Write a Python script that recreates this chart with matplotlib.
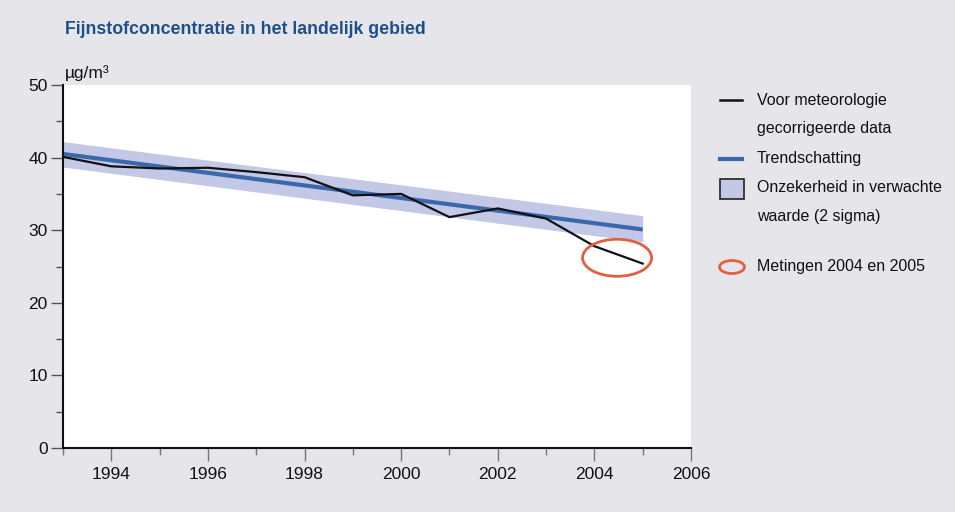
import matplotlib
matplotlib.use("Agg")
import matplotlib.pyplot as plt
import numpy as np
from matplotlib.patches import Ellipse, Rectangle
from matplotlib.lines import Line2D
from matplotlib.ticker import MultipleLocator

FONT = ['Liberation Sans', 'DejaVu Sans']
plt.rcParams['font.family'] = FONT

years = [1993, 1994, 1995, 1996, 1997, 1998, 1999, 2000, 2001, 2002, 2003, 2004, 2005]
measured = [40.1, 38.8, 38.5, 38.6, 38.0, 37.3, 34.8, 35.0, 31.8, 33.0, 31.6, 27.8, 25.4]
trend_years = [1993, 2005]
trend_values = [40.5, 30.1]
band_upper = [42.2, 32.0]
band_lower = [38.7, 28.4]
highlight_center = (2004.47, 26.2)
highlight_size = (1.43, 5.1)

title = "Fijnstofconcentratie in het landelijk gebied"
unit = "µg/m³"
legend_labels = ["Voor meteorologie\ngecorrigeerde data", "Trendschatting",
                 "Onzekerheid in verwachte\nwaarde (2 sigma)", "Metingen 2004 en 2005"]

bg = "#E6E6EA"
c_black = "#111111"
c_blue = "#3A68AC"
c_band = "#C3C8E6"
c_circle = "#E2603F"
c_title = "#1F4F8A"

fig = plt.figure(figsize=(9.55, 5.12), dpi=100)
fig.patch.set_facecolor(bg)

ax = fig.add_axes([63/955, (512-448)/512, (691-63)/955, (448-85)/512])
ax.set_facecolor("white")
ax.fill_between(trend_years, band_lower, band_upper, color=c_band, lw=0, zorder=1)
ax.plot(trend_years, trend_values, color=c_blue, lw=3, zorder=2, solid_capstyle='butt')
ax.plot(years, measured, color=c_black, lw=1.6, zorder=3)
ax.add_patch(Ellipse(highlight_center, highlight_size[0], highlight_size[1],
                     fill=False, edgecolor=c_circle, lw=2, zorder=4))

ax.set_xlim(1993, 2006)
ax.set_ylim(0, 50)
ax.xaxis.set_minor_locator(MultipleLocator(1))
ax.set_xticks(range(1994, 2007, 2))
ax.yaxis.set_major_locator(MultipleLocator(10))
ax.yaxis.set_minor_locator(MultipleLocator(5))
for s in ['top', 'right']:
    ax.spines[s].set_visible(False)
for s in ['left', 'bottom']:
    ax.spines[s].set_linewidth(1.5)
    ax.spines[s].set_color("#111111")
ax.tick_params(axis='x', which='major', length=9, width=1, color="#777777",
               labelsize=12.5, pad=5, labelcolor="#111111")
ax.tick_params(axis='x', which='minor', length=5, width=1, color="#777777")
ax.tick_params(axis='y', which='major', length=9, width=1, color="#555555",
               labelsize=12.5, pad=2, labelcolor="#111111")
ax.tick_params(axis='y', which='minor', length=5, width=1, color="#555555")

fig.text(65/955, 1 - 30/512, title, color=c_title, fontsize=12.8,
         fontweight='bold', va='center', ha='left')
fig.text(65/955, 1 - 73/512, unit, color="#111111", fontsize=12.5,
         va='center', ha='left')

# legend drawn in pixel coordinates
lg = fig.add_axes([0, 0, 1, 1], facecolor='none')
lg.set_xlim(0, 955)
lg.set_ylim(512, 0)
lg.axis('off')
lg.add_line(Line2D([720, 742], [100, 100], color=c_black, lw=1.8))
lg.add_line(Line2D([720, 742], [159, 159], color=c_blue, lw=3))
lg.add_patch(Rectangle((720, 179), 24, 20, facecolor=c_band, edgecolor="#222222", lw=1.2))
lg.add_patch(Ellipse((732, 267), 25, 13, fill=False, edgecolor=c_circle, lw=2))
tx = 757
rows = [(100, legend_labels[0].split("\n")[0]), (129, legend_labels[0].split("\n")[1]),
        (159, legend_labels[1]), (188, legend_labels[2].split("\n")[0]),
        (217, legend_labels[2].split("\n")[1]), (267, legend_labels[3])]
for y, t in rows:
    lg.text(tx, y, t, fontsize=11.5, color="#111111", va='center', ha='left')

fig.savefig("out.png", dpi=100, facecolor=bg)
